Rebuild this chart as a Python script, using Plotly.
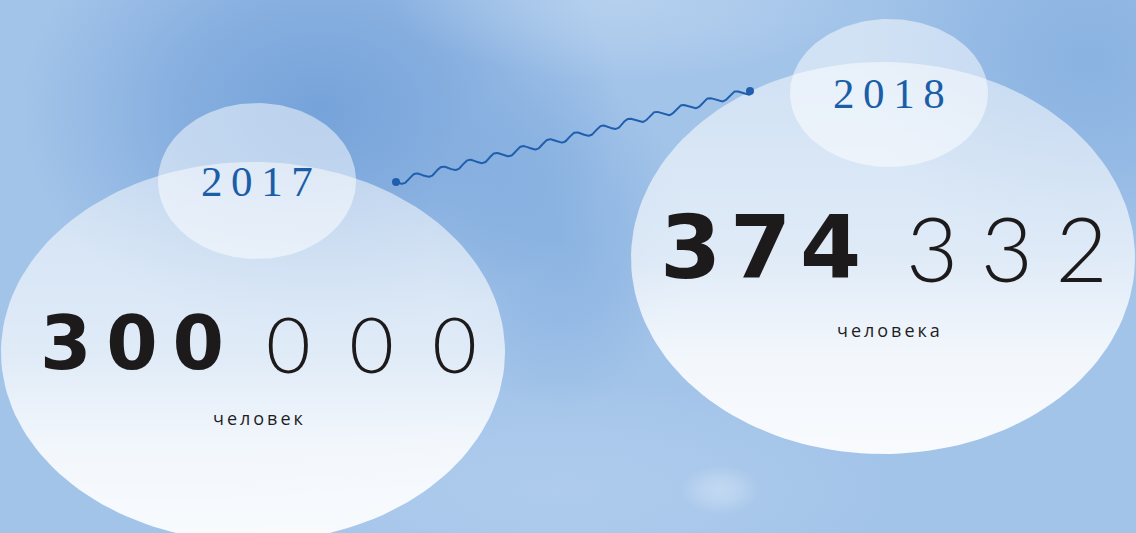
import numpy as np
import plotly.graph_objects as go

# data
years = ["2017", "2018"]
values = [300000, 374332]
units = ["человек", "человека"]

W, H = 1136, 533
THIN = "\u2009"


def ellipse(cx, cy, rx, ry, n=160):
    t = np.linspace(0, 2 * np.pi, n)
    return cx + rx * np.cos(t), cy + ry * np.sin(t)


def spaced(s, sep=THIN):
    return sep.join(s)


fig = go.Figure()

# soft background blobs: (cx, cy, rx, ry, rgb, alpha)
blobs = [
    (320, 110, 300, 230, "62,122,200", 0.45),
    (560, 240, 130, 170, "80,138,208", 0.28),
    (1090, 60, 230, 210, "80,138,208", 0.3),
    (620, 0, 230, 80, "215,230,248", 0.35),
    (560, 490, 330, 110, "200,221,245", 0.3),
    (720, 490, 40, 25, "232,241,252", 0.4),
]
for cx, cy, rx, ry, rgb, a in blobs:
    x, y = ellipse(cx, cy, rx, ry)
    fig.add_trace(go.Scatter(
        x=x, y=y, mode="lines", fill="toself", line=dict(width=0),
        fillgradient=dict(type="radial", colorscale=[
            [0, f"rgba({rgb},{a})"], [0.5, f"rgba({rgb},{a * 0.6})"], [1, f"rgba({rgb},0)"]]),
        hoverinfo="skip", showlegend=False))

# big bubbles (value) and small bubbles (year)
big = [(253, 352, 252, 190), (883, 258, 252, 196)]
small = [(257, 181, 99, 78), (889, 93, 99, 74)]

for cx, cy, rx, ry in big:
    x, y = ellipse(cx, cy, rx, ry)
    fig.add_trace(go.Scatter(
        x=x, y=y, mode="lines", fill="toself", line=dict(width=0),
        fillgradient=dict(type="vertical", start=cy - ry, stop=cy + ry, colorscale=[
            [0, "rgba(255,255,255,0.5)"], [0.5, "rgba(255,255,255,0.66)"],
            [0.75, "rgba(255,255,255,0.86)"], [1, "rgba(255,255,255,0.93)"]]),
        hoverinfo="skip", showlegend=False))

for cx, cy, rx, ry in small:
    x, y = ellipse(cx, cy, rx, ry)
    fig.add_trace(go.Scatter(
        x=x, y=y, mode="lines", fill="toself", line=dict(width=0),
        fillcolor="rgba(255,255,255,0.5)",
        hoverinfo="skip", showlegend=False))

# wavy connector between the two years
p0 = np.array([396.0, 182.0])
p1 = np.array([750.0, 91.0])
d = p1 - p0
length = np.hypot(*d)
u = d / length
nrm = np.array([-u[1], u[0]])
s = np.linspace(0, length, 600)
off = 3.3 * np.sin(2 * np.pi * s / 27.5)
wx = p0[0] + u[0] * s + nrm[0] * off
wy = p0[1] + u[1] * s + nrm[1] * off
fig.add_trace(go.Scatter(x=wx, y=wy, mode="lines", line=dict(color="#1f5fae", width=2),
                         hoverinfo="skip", showlegend=False))
fig.add_trace(go.Scatter(x=[p0[0], p1[0]], y=[p0[1], p1[1]], mode="markers",
                         marker=dict(color="#1f5fae", size=8),
                         hoverinfo="skip", showlegend=False))

# text
num_y = [343, 247]
head_right = [226, 863]
tail_left = [264, 904]
head_size = [74, 88]
tail_size = [77, 90]
head_sep = [THIN, "\u200a"]
tail_sep = ["\u2002", "\u2005"]
unit_y = [418, 330]
for i, (yr, v, un) in enumerate(zip(years, values, units)):
    cx, cy = small[i][0], small[i][1]
    fig.add_annotation(x=cx, y=cy, text=spaced(yr), showarrow=False,
                       font=dict(family="Liberation Serif", size=43, color="#1b5ea8"))
    head, tail = f"{v:,}".split(",")
    fig.add_annotation(x=head_right[i], y=num_y[i], text=spaced(head, head_sep[i]), showarrow=False,
                       xanchor="right",
                       font=dict(family="DejaVu Sans", size=head_size[i], color="#1c1a1b", weight=700))
    fig.add_annotation(x=tail_left[i], y=num_y[i], text=spaced(tail, tail_sep[i]), showarrow=False,
                       xanchor="left",
                       font=dict(family="Lato", size=tail_size[i], color="#1c1a1b", weight=300))
    fig.add_annotation(x=big[i][0] + 5, y=unit_y[i], text=spaced(un), showarrow=False,
                       font=dict(family="Open Sans", size=18, color="#1e1e1e"))

fig.update_xaxes(range=[0, W], visible=False, fixedrange=True)
fig.update_yaxes(range=[H, 0], visible=False, fixedrange=True)
fig.update_layout(width=W, height=H, margin=dict(l=0, r=0, t=0, b=0),
                  paper_bgcolor="#a3c4e9", plot_bgcolor="#a3c4e9", showlegend=False)

fig.write_html("out.html", config={"displayModeBar": False},
               post_script="document.body.style.margin='0';document.body.style.overflow='hidden';")
